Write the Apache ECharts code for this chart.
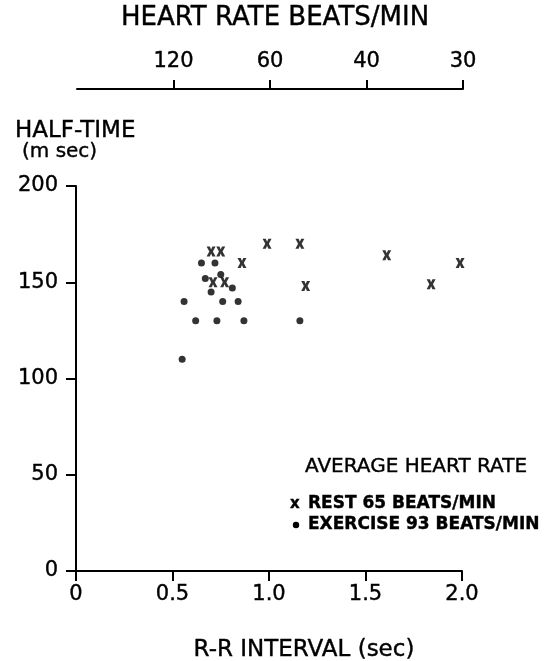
<!DOCTYPE html>
<html>
<head>
<meta charset="utf-8">
<script src="https://cdn.jsdelivr.net/npm/echarts@6/dist/echarts.min.js"></script>
<style>
html,body{margin:0;padding:0;background:#fff;}
#chart{width:553px;height:661px;}
</style>
</head>
<body>
<div id="chart"></div>
<script>
// R-R interval (sec), half-time (msec)
var restRR = [0.70, 0.75, 0.99, 1.16, 0.86, 0.71, 0.77, 1.19, 1.61, 1.99, 1.84];
var restHalfTime = [166, 166, 170, 170, 160, 150, 150, 148, 164, 160, 149];
var exerciseRR = [0.65, 0.72, 0.67, 0.75, 0.81, 0.70, 0.56, 0.76, 0.84, 0.62, 0.73, 0.87, 1.16, 0.55];
var exerciseHalfTime = [160, 160, 152, 154, 147, 145, 140, 140, 140, 130, 130, 130, 130, 110];

var xTickValues = [0, 0.5, 1.0, 1.5, 2.0];
var xTickLabels = ['0', '0.5', '1.0', '1.5', '2.0'];
var yTickValues = [0, 50, 100, 150, 200];
var topTickValues = [0.5, 1.0, 1.5, 2.0];
var topTickLabels = ['120', '60', '40', '30'];

var titleTop = 'HEART RATE BEATS/MIN';
var yTitle1 = 'HALF-TIME';
var yTitle2 = '(m sec)';
var xTitle = 'R-R INTERVAL (sec)';
var legendTitle = 'AVERAGE HEART RATE';
var legendRest = 'REST 65 BEATS/MIN';
var legendExercise = 'EXERCISE 93 BEATS/MIN';

function zip(a, b) { return a.map(function (v, i) { return [v, b[i]]; }); }

var FONT = '"DejaVu Sans", sans-serif';
var INK = '#000';
var crossPath = 'path://M0,0 L3.6,0 L5,3 L6.4,0 L10,0 L7,5 L10,10 L6.4,10 L5,7 L3.6,10 L0,10 L3,5 Z';

var chart = echarts.init(document.getElementById('chart'), null, {renderer: 'canvas'});
var axisLineStyle = {color: INK, width: 2};
var labelBase = {color: INK, fontFamily: FONT, fontSize: 21, textBorderColor: INK, textBorderWidth: 0.4};

function txt(text, x, y, font, align) {
  return {type: 'text', x: x, y: y, style: {text: text, font: font, fill: INK, stroke: INK, lineWidth: 0.4,
    textAlign: align, textVerticalAlign: 'middle'}};
}

chart.setOption({
  backgroundColor: '#fff',
  animation: false,
  grid: [
    {left: 76, right: 91, top: 186, bottom: 90},
    {left: 77, right: 90, top: 89, height: 1}
  ],
  xAxis: [
    {
      gridIndex: 0, type: 'value', min: 0, max: 2, interval: 0.5,
      axisLine: {show: true, onZero: false, lineStyle: axisLineStyle},
      axisTick: {show: true, length: 10, inside: false, lineStyle: axisLineStyle},
      splitLine: {show: false},
      axisLabel: Object.assign({}, labelBase, {
        margin: 13,
        formatter: function (v) {
          var i = xTickValues.indexOf(v);
          return i >= 0 ? xTickLabels[i] : '';
        }
      })
    },
    {
      gridIndex: 1, type: 'value', min: 0, max: 2, position: 'top',
      axisLine: {show: true, onZero: false, lineStyle: axisLineStyle},
      axisTick: {show: true, length: 9, inside: false, customValues: topTickValues, lineStyle: axisLineStyle},
      splitLine: {show: false},
      axisLabel: Object.assign({}, labelBase, {
        margin: 17,
        customValues: topTickValues,
        formatter: function (v) {
          for (var i = 0; i < topTickValues.length; i++) {
            if (Math.abs(topTickValues[i] - v) < 1e-6) return topTickLabels[i];
          }
          return '';
        }
      })
    }
  ],
  yAxis: [
    {
      gridIndex: 0, type: 'value', min: 0, max: 200, interval: 50,
      axisLine: {show: true, onZero: false, lineStyle: axisLineStyle},
      axisTick: {show: true, length: 10, inside: false, lineStyle: axisLineStyle},
      splitLine: {show: false},
      axisLabel: Object.assign({}, labelBase, {margin: 18,
        formatter: function (v) { return yTickValues.indexOf(v) >= 0 ? String(v) : ''; }})
    },
    {gridIndex: 1, type: 'value', show: false, min: 0, max: 1}
  ],
  series: [
    {
      name: 'Rest', type: 'scatter', xAxisIndex: 0, yAxisIndex: 0,
      data: zip(restRR, restHalfTime),
      symbol: crossPath, symbolSize: [9, 10],
      itemStyle: {color: INK}
    },
    {
      name: 'Exercise', type: 'scatter', xAxisIndex: 0, yAxisIndex: 0,
      data: zip(exerciseRR, exerciseHalfTime),
      symbol: 'circle', symbolSize: 7,
      itemStyle: {color: INK}
    }
  ],
  graphic: [
    txt(titleTop, 275, 18, '26px ' + FONT, 'center'),
    txt(yTitle1, 15, 131, '23px ' + FONT, 'left'),
    txt(yTitle2, 22, 152, '20px ' + FONT, 'left'),
    txt(xTitle, 304, 650, '23px ' + FONT, 'center'),
    txt(legendTitle, 305, 467, '20px ' + FONT, 'left'),
    txt('x', 290, 504, 'bold 15px ' + FONT, 'left'),
    txt(legendRest, 308, 504, 'bold 17px ' + FONT, 'left'),
    {type: 'circle', shape: {cx: 296, cy: 525, r: 3.2}, style: {fill: INK}},
    txt(legendExercise, 308, 525, 'bold 17px ' + FONT, 'left')
  ]
});
</script>
</body>
</html>
